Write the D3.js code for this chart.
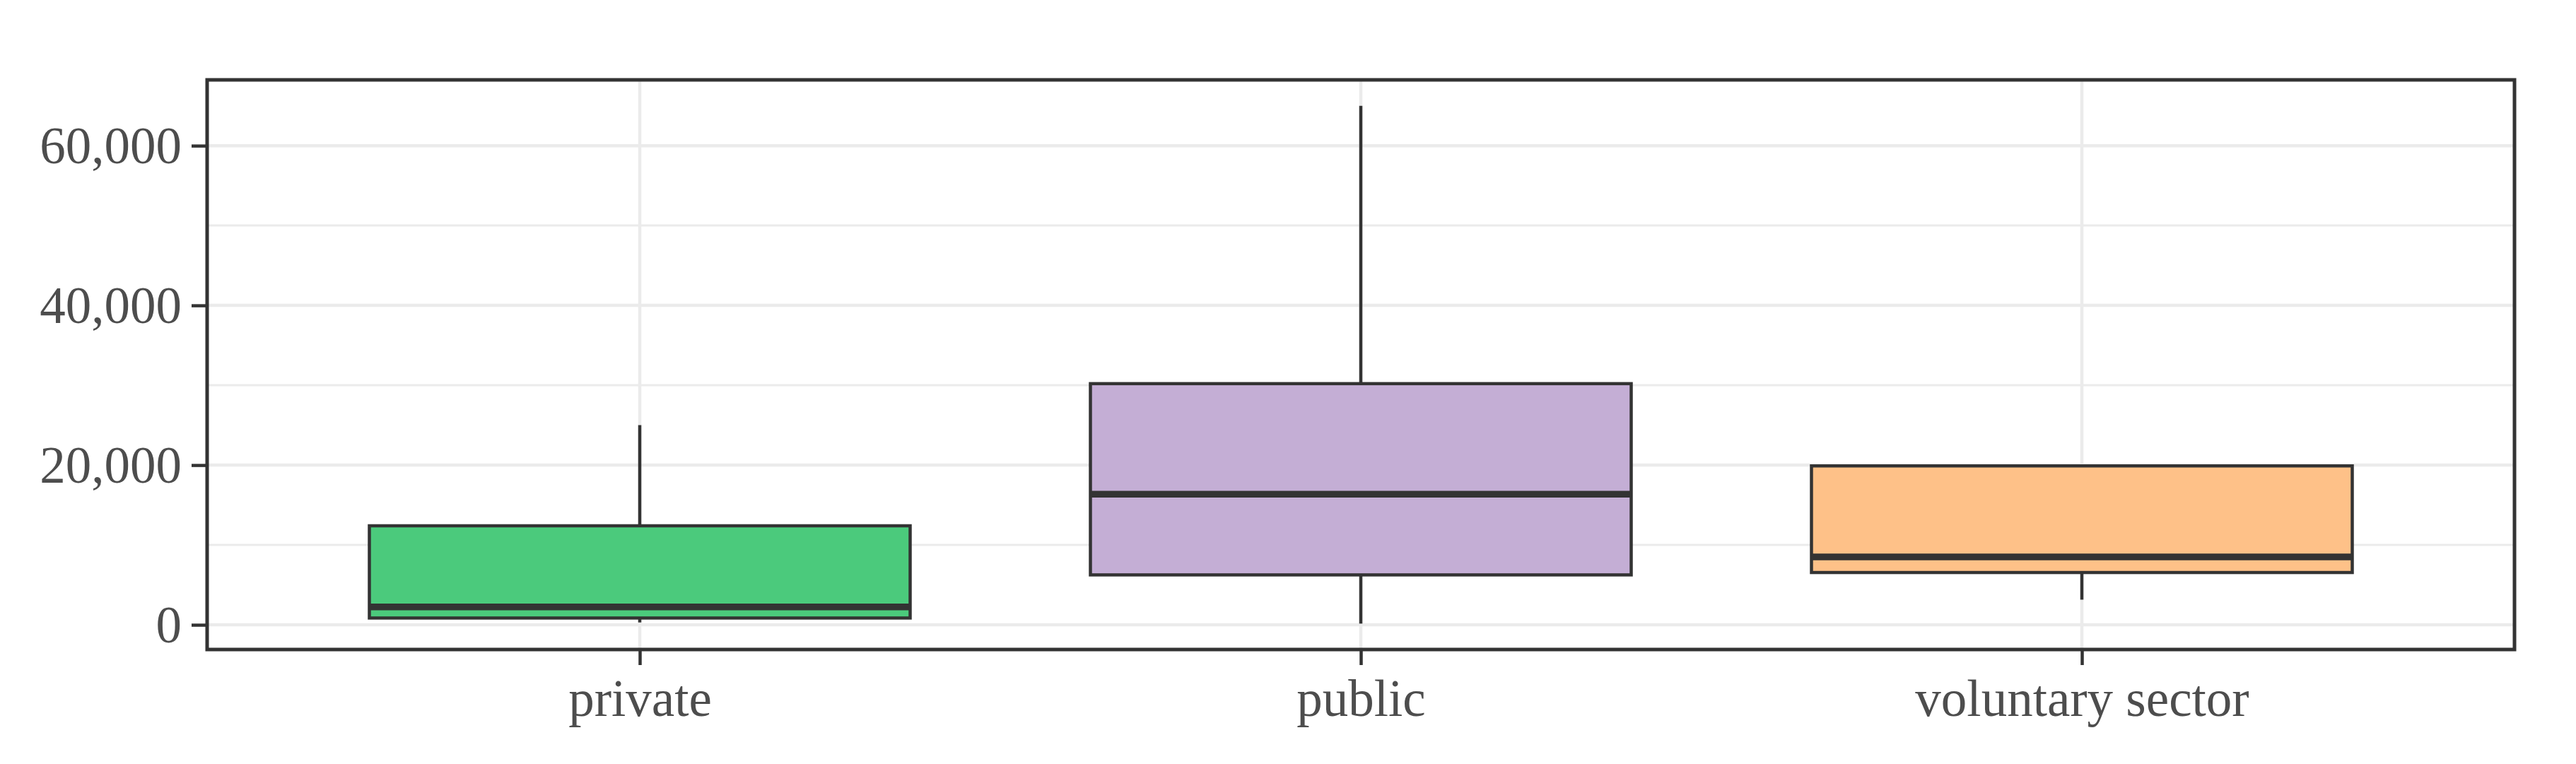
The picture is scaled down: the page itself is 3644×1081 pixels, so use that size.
<!DOCTYPE html>
<html>
<head>
<meta charset="utf-8">
<script src="https://cdn.jsdelivr.net/npm/d3@7"></script>
<style>
  html, body { margin: 0; padding: 0; background: #ffffff; }
  svg { display: block; }
</style>
</head>
<body>
<svg id="chart" width="3644" height="1081"></svg>
<script>
// ---- data ----
const categories   = ["private", "public", "voluntary sector"];
const whiskerLow   = [300, 150, 3150];
const q1           = [850, 6250, 6550];
const median       = [2250, 16350, 8500];
const q3           = [12400, 30200, 19900];
const whiskerHigh  = [25000, 65000, 19900];
const fills        = ["#4bca7c", "#c4aed5", "#fec188"];
const yMajorTicks  = [0, 20000, 40000, 60000];
const yMinorTicks  = [10000, 30000, 50000];

// ---- layout ----
const panel = { left: 293, right: 3557, top: 113, bottom: 919 };
const svg = d3.select("#chart");
const fontFamily = "'Liberation Serif', 'DejaVu Serif', serif";

const lo = d3.min(whiskerLow), hi = d3.max(whiskerHigh);
const pad = (hi - lo) * 0.05;
const y = d3.scaleLinear().domain([lo - pad, hi + pad]).range([panel.bottom, panel.top]);
const x = d3.scalePoint().domain(categories).range([panel.left, panel.right]).padding(0.6);
const boxW = x.step() * 0.75;

// background
svg.append("rect").attr("x", panel.left).attr("y", panel.top)
  .attr("width", panel.right - panel.left).attr("height", panel.bottom - panel.top)
  .attr("fill", "#ffffff");

// grid lines
const grid = svg.append("g");
grid.selectAll("line.minor").data(yMinorTicks).join("line")
  .attr("x1", panel.left).attr("x2", panel.right)
  .attr("y1", d => y(d)).attr("y2", d => y(d))
  .attr("stroke", "#ebebeb").attr("stroke-width", 3);
grid.selectAll("line.majory").data(yMajorTicks).join("line")
  .attr("x1", panel.left).attr("x2", panel.right)
  .attr("y1", d => y(d)).attr("y2", d => y(d))
  .attr("stroke", "#ebebeb").attr("stroke-width", 4.5);
grid.selectAll("line.majorx").data(categories).join("line")
  .attr("x1", d => x(d)).attr("x2", d => x(d))
  .attr("y1", panel.top).attr("y2", panel.bottom)
  .attr("stroke", "#ebebeb").attr("stroke-width", 4.5);

// boxplots
const rows = categories.map((c, i) => ({
  cat: c, lo: whiskerLow[i], q1: q1[i], med: median[i], q3: q3[i], hi: whiskerHigh[i], fill: fills[i]
}));
const boxes = svg.append("g").selectAll("g").data(rows).join("g");
boxes.append("line")
  .attr("x1", d => x(d.cat)).attr("x2", d => x(d.cat))
  .attr("y1", d => y(d.hi)).attr("y2", d => y(d.q3))
  .attr("stroke", "#333333").attr("stroke-width", 4.5);
boxes.append("line")
  .attr("x1", d => x(d.cat)).attr("x2", d => x(d.cat))
  .attr("y1", d => y(d.q1)).attr("y2", d => y(d.lo))
  .attr("stroke", "#333333").attr("stroke-width", 4.5);
boxes.append("rect")
  .attr("x", d => x(d.cat) - boxW / 2).attr("width", boxW)
  .attr("y", d => y(d.q3)).attr("height", d => y(d.q1) - y(d.q3))
  .attr("fill", d => d.fill).attr("stroke", "#333333").attr("stroke-width", 4.5);
boxes.append("line")
  .attr("x1", d => x(d.cat) - boxW / 2).attr("x2", d => x(d.cat) + boxW / 2)
  .attr("y1", d => y(d.med)).attr("y2", d => y(d.med))
  .attr("stroke", "#333333").attr("stroke-width", 9.5);

// panel border
svg.append("rect").attr("x", panel.left).attr("y", panel.top)
  .attr("width", panel.right - panel.left).attr("height", panel.bottom - panel.top)
  .attr("fill", "none").attr("stroke", "#333333").attr("stroke-width", 5);

// y axis
const yAxis = svg.append("g").attr("transform", `translate(${panel.left},0)`)
  .call(d3.axisLeft(y).tickValues(yMajorTicks).tickFormat(d3.format(",")).tickSize(22).tickPadding(14));
yAxis.select(".domain").remove();
yAxis.selectAll(".tick line").attr("stroke", "#333333").attr("stroke-width", 4.5);
yAxis.selectAll(".tick text").attr("fill", "#4d4d4d")
  .attr("font-family", fontFamily).attr("font-size", 73).attr("dy", "0.34em");

// x axis
const xAxis = svg.append("g").attr("transform", `translate(0,${panel.bottom})`)
  .call(d3.axisBottom(x).tickSize(22).tickPadding(20));
xAxis.select(".domain").remove();
xAxis.selectAll(".tick line").attr("stroke", "#333333").attr("stroke-width", 4.5);
xAxis.selectAll(".tick text").attr("fill", "#4d4d4d")
  .attr("font-family", fontFamily).attr("font-size", 73).attr("dy", "0.71em");
</script>
</body>
</html>
